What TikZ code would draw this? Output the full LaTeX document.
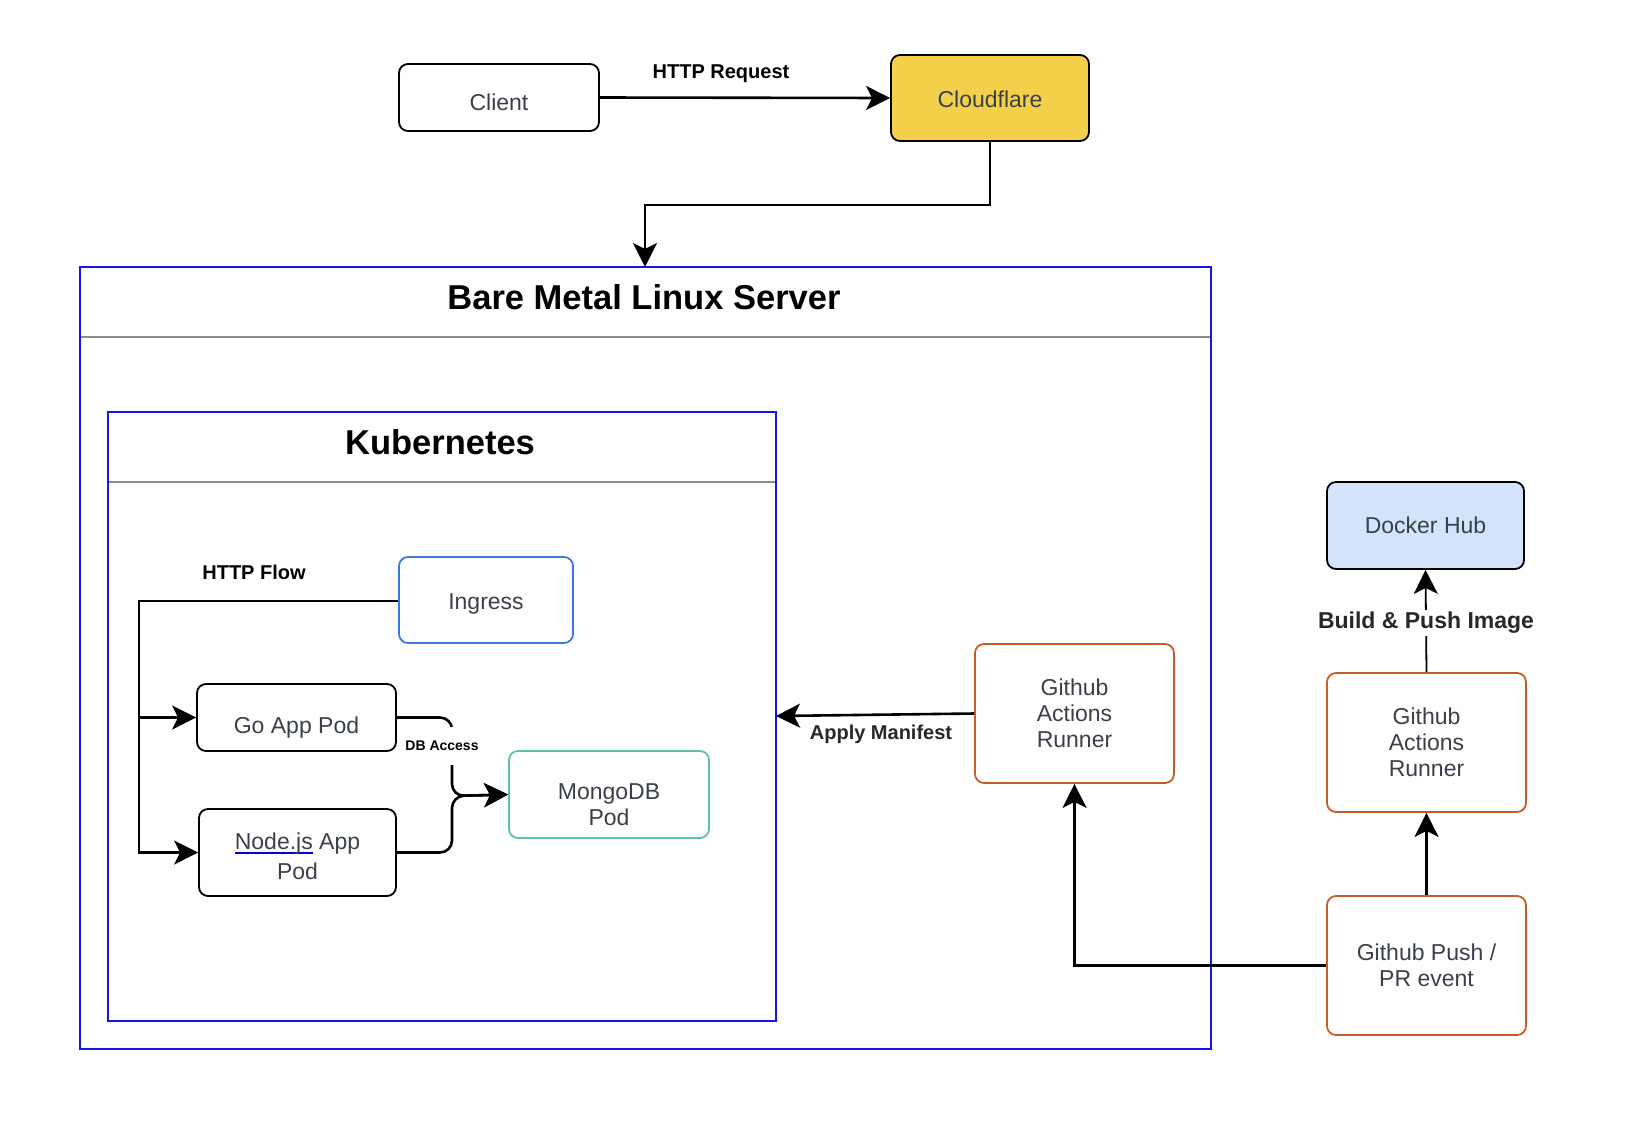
\documentclass[tikz,border=0pt]{standalone}
\usepackage{fontspec}
\setmainfont{Liberation Sans}
\usetikzlibrary{arrows.meta,positioning}
\definecolor{txtgray}{RGB}{58,63,74}
\definecolor{cfyellow}{RGB}{244,208,74}
\definecolor{dockblue}{RGB}{212,227,250}
\definecolor{ghorange}{RGB}{200,92,40}
\definecolor{ingblue}{RGB}{60,120,225}
\definecolor{mongoteal}{RGB}{95,192,170}
\definecolor{contblue}{RGB}{20,20,240}
\definecolor{sepgray}{RGB}{140,140,140}
\definecolor{lblgray}{RGB}{40,40,40}
\newcommand{\bluline}[1]{\setbox0\hbox{#1}\rlap{\color{blue!85!black}\rule[-4pt]{\wd0}{1.3pt}}\box0\relax}
\newcommand{\dn}[2]{\raisebox{-#1}[\height][\depth]{#2}}
\tikzset{
  box/.style={draw, rounded corners=9pt, line width=1.8pt, inner sep=0pt, align=center,
    text=txtgray, font=\fontsize{23}{26}\selectfont},
  container/.style={draw=contblue, line width=2.6pt},
  sepline/.style={draw=sepgray, line width=2pt},
  flow/.style={draw=black, line width=2.6pt, -{Stealth[length=24pt,width=24pt,inset=6pt]}},
  lbl/.style={font=\bfseries\fontsize{20}{24}\selectfont, text=black, inner sep=2pt},
  ttl/.style={font=\bfseries\fontsize{34.5}{40}\selectfont, text=black}
}
\begin{document}
\begin{tikzpicture}[x=1pt,y=-1pt]
\useasboundingbox (0,0) rectangle (1648,1144);
% containers
\draw[container] (80,267) rectangle (1211,1049);
\draw[sepline] (81,337) -- (1210,337);
\node[ttl] (bmtitle) at (644,297) {Bare Metal Linux Server};
\draw[container] (108,412) rectangle (776,1021);
\draw[sepline] (109,482) -- (775,482);
\node[ttl] (kubetitle) at (440,442) {Kubernetes};
\coordinate (bmtop) at (645,267);
\coordinate (kubeeast) at (776,716);
% nodes
\node[box, minimum width=200pt, minimum height=67pt] (client) at (499,97.5) {\dn{5pt}{Client}};
\node[box, fill=cfyellow, minimum width=198pt, minimum height=86pt] (cf) at (990,98) {\dn{1pt}{Cloudflare}};
\node[box, draw=ingblue, minimum width=174pt, minimum height=86pt] (ingress) at (486,600) {\dn{4pt}{Ingress}};
\node[box, minimum width=199pt, minimum height=67pt] (go) at (296.5,717.5) {\dn{10pt}{Go App Pod}};
\node[box, minimum width=197pt, minimum height=87pt] (nodejs) at (297.5,852.5) {\dn{2pt}{\bluline{Node.js} App}\\\dn{6pt}{Pod}};
\node[box, draw=mongoteal, minimum width=200pt, minimum height=87pt] (mongo) at (609,794.5) {\dn{10pt}{MongoDB}\\\dn{10pt}{Pod}};
\node[box, draw=ghorange, minimum width=199pt, minimum height=139pt] (ghr1) at (1074.5,713.5) {Github\\Actions\\Runner};
\node[box, fill=dockblue, minimum width=197pt, minimum height=87pt] (docker) at (1425.5,525.5) {Docker Hub};
\node[box, draw=ghorange, minimum width=199pt, minimum height=139pt] (ghr2) at (1426.5,742.5) {Github\\Actions\\Runner};
\node[box, draw=ghorange, minimum width=199pt, minimum height=139pt] (push) at (1426.5,965.5) {Github Push /\\PR event};
% edges
\draw[flow] (client.east) -- (cf.west);
\node[lbl] (httpreq) at (721,74) {HTTP Request};
\draw[flow] (cf.south) -- ++(0,63) -| (bmtop);
\coordinate (hf) at (139,601);
\draw[flow] (ingress.west |- hf) -- (hf) |- (go.west);
\draw[flow] (hf) |- (nodejs.west);
\node[lbl] (httpflow) at (254,572) {HTTP Flow};
\draw[flow, rounded corners=12pt] (go.east) -| (452,796) -- (mongo.west);
\draw[flow, rounded corners=12pt] (nodejs.east) -| (452,796) -- (mongo.west);
\node[lbl, fill=white, font=\bfseries\fontsize{14}{16}\selectfont, inner sep=1pt, minimum height=38pt] (dbacc) at (442,746) {DB Access};
\draw[flow] (ghr1.west) -- (kubeeast);
\node[lbl, text=lblgray] (apply) at (881,734) {Apply Manifest};
\draw[flow] (push.west) -| (ghr1.south);
\draw[flow] (push.north) -- (ghr2.south);
\draw[flow, line width=1.8pt] (ghr2.north) -- (docker.south);
\node[lbl, text=lblgray, fill=white, font=\bfseries\fontsize{23}{26}\selectfont] (build) at (1426,623) {Build \& Push Image};
\end{tikzpicture}
\end{document}
